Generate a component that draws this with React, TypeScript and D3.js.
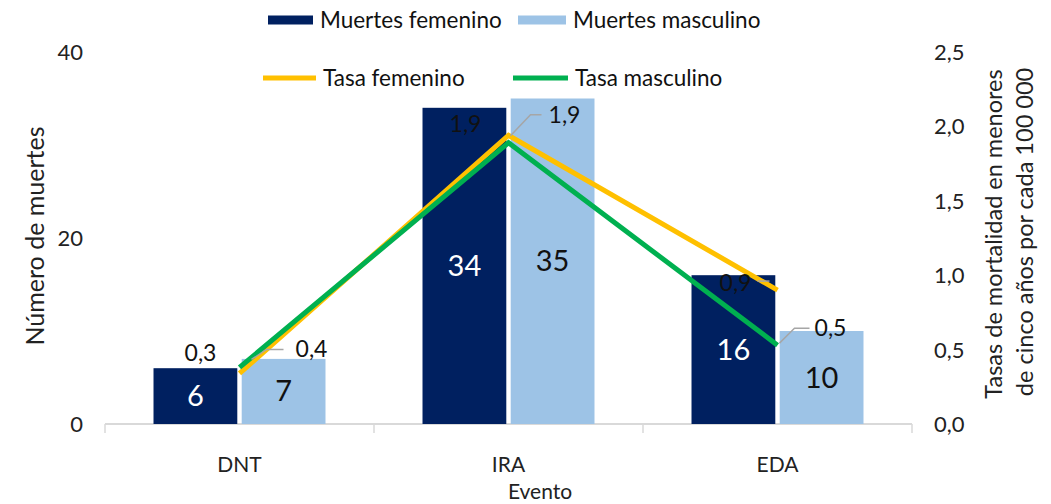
import React, { useEffect, useRef } from "react";
import * as d3 from "d3";

const categories = ["DNT", "IRA", "EDA"];
const series = ["Muertes femenino", "Muertes masculino"];
const deathsFemale = [6, 34, 16];
const deathsMale = [7, 35, 10];
const rateFemale = [0.34, 1.94, 0.9];
const rateMale = [0.38, 1.89, 0.53];
const leftTicks = [0, 20, 40];
const rightTicks = [0, 0.5, 1, 1.5, 2, 2.5];

const W = 1051;
const H = 504;
const FONT = "Lato, 'Open Sans', sans-serif";
const DARK = "#002060";
const LIGHT = "#9dc3e6";
const YELLOW = "#ffc000";
const GREEN = "#00b050";
const fmt = (v: number) => v.toFixed(1).replace(".", ",");

export default function App() {
  const ref = useRef<SVGSVGElement>(null);

  useEffect(() => {
    const svg = d3.select(ref.current);
    svg.selectAll("*").remove();

    const x0 = d3.scaleBand().domain(categories).range([105, 912]).paddingInner(0).paddingOuter(0);
    const x1 = d3.scaleBand().domain(series).range([0, x0.bandwidth()]).paddingInner(0.05).paddingOuter(0.55);
    const yL = d3.scaleLinear().domain([0, 40]).range([424, 52]);
    const yR = d3.scaleLinear().domain([0, 2.5]).range([424, 52]);
    const cx = (c: string) => (x0(c) as number) + x0.bandwidth() / 2;

    // axis line + boundary ticks
    svg.append("line").attr("x1", 105).attr("x2", 912).attr("y1", yL(0)).attr("y2", yL(0))
      .attr("stroke", "#d9d9d9").attr("stroke-width", 2);
    const bounds = [...categories.map((c) => x0(c) as number), 912];
    svg.selectAll(".tk").data(bounds).enter().append("line")
      .attr("x1", (d) => d).attr("x2", (d) => d).attr("y1", yL(0)).attr("y2", yL(0) + 9)
      .attr("stroke", "#d9d9d9").attr("stroke-width", 1.5);

    // bars
    const bars = [
      { key: series[0], vals: deathsFemale, color: DARK, text: "#fff" },
      { key: series[1], vals: deathsMale, color: LIGHT, text: "#111" },
    ];
    bars.forEach((s) => {
      const g = svg.append("g");
      g.selectAll("rect").data(categories).enter().append("rect")
        .attr("x", (c) => (x0(c) as number) + (x1(s.key) as number))
        .attr("y", (c, i) => yL(s.vals[i]))
        .attr("width", x1.bandwidth())
        .attr("height", (c, i) => yL(0) - yL(s.vals[i]))
        .attr("fill", s.color);
      g.selectAll("text").data(categories).enter().append("text")
        .attr("x", (c) => (x0(c) as number) + (x1(s.key) as number) + x1.bandwidth() / 2)
        .attr("y", (c, i) => (yL(s.vals[i]) + yL(0)) / 2 + 10)
        .attr("text-anchor", "middle").attr("font-family", FONT).attr("font-size", 29)
        .attr("fill", s.text).text((c, i) => s.vals[i]);
    });

    // lines
    const line = d3.line<number>().x((d, i) => cx(categories[i])).y((d) => yR(d));
    svg.append("path").datum(rateFemale).attr("d", line).attr("fill", "none")
      .attr("stroke", YELLOW).attr("stroke-width", 5);
    svg.append("path").datum(rateMale).attr("d", line).attr("fill", "none")
      .attr("stroke", GREEN).attr("stroke-width", 5);

    // rate labels
    const lab = (x: number, y: number, t: string) =>
      svg.append("text").attr("x", x).attr("y", y).attr("text-anchor", "middle")
        .attr("font-family", FONT).attr("font-size", 23).attr("fill", "#111").text(t);
    const lead = (pts: [number, number][]) =>
      svg.append("path").attr("d", d3.line()(pts)).attr("fill", "none")
        .attr("stroke", "#a6a6a6").attr("stroke-width", 1.5);

    const p = (i: number, v: number) => [cx(categories[i]), yR(v)] as [number, number];
    // DNT
    let [x, y] = p(0, rateFemale[0]);
    lab(x - 39, y - 12, fmt(rateFemale[0]));
    [x, y] = p(0, rateMale[0]);
    lead([[x + 12, y - 8], [x + 27, y - 18], [x + 44, y - 18]]);
    lab(x + 72, y - 10, fmt(rateMale[0]));
    // IRA
    [x, y] = p(1, rateFemale[1]);
    lab(x - 43, y - 3, fmt(rateFemale[1]));
    [x, y] = p(1, rateMale[1]);
    lead([[x + 2, y - 7], [x + 22, y - 28], [x + 33, y - 28]]);
    lab(x + 56, y - 20, fmt(rateMale[1]));
    // EDA
    [x, y] = p(2, rateFemale[2]);
    lab(x - 42, y + 1, fmt(rateFemale[2]));
    lead([[x - 20, y - 9], [x - 8, y - 9]]);
    [x, y] = p(2, rateMale[2]);
    lead([[x + 2, y - 2], [x + 17, y - 17], [x + 32, y - 17]]);
    lab(x + 53, y - 9, fmt(rateMale[2]));

    // left axis ticks
    svg.selectAll(".lt").data(leftTicks).enter().append("text")
      .attr("x", 83).attr("y", (d) => yL(d) + 8).attr("text-anchor", "end")
      .attr("font-family", FONT).attr("font-size", 22).attr("fill", "#222").text((d) => d);
    // right axis ticks
    svg.selectAll(".rt").data(rightTicks).enter().append("text")
      .attr("x", 934).attr("y", (d) => yR(d) + 8).attr("text-anchor", "start")
      .attr("font-family", FONT).attr("font-size", 22).attr("fill", "#222").text((d) => fmt(d));

    // category labels
    svg.selectAll(".cl").data(categories).enter().append("text")
      .attr("x", (c) => cx(c)).attr("y", 472).attr("text-anchor", "middle")
      .attr("font-family", FONT).attr("font-size", 21).attr("fill", "#222").text((c) => c);
    svg.append("text").attr("x", 540).attr("y", 499).attr("text-anchor", "middle")
      .attr("font-family", FONT).attr("font-size", 21).attr("fill", "#222").text("Evento");

    // axis titles
    svg.append("text").attr("transform", "translate(44,236) rotate(-90)").attr("text-anchor", "middle")
      .attr("font-family", FONT).attr("font-size", 25).attr("fill", "#222").text("Número de muertes");
    svg.append("text").attr("transform", "translate(1002,234) rotate(-90)").attr("text-anchor", "middle")
      .attr("font-family", FONT).attr("font-size", 23.5).attr("fill", "#222").text("Tasas de mortalidad en menores");
    svg.append("text").attr("transform", "translate(1033,232) rotate(-90)").attr("text-anchor", "middle")
      .attr("font-family", FONT).attr("font-size", 23.5).attr("fill", "#222").text("de cinco años por cada 100 000");

    // legend
    const legend = [
      { name: "Muertes femenino", color: DARK, x: 268, w: 45, y: 20, sw: 9 },
      { name: "Muertes masculino", color: LIGHT, x: 518, w: 48, y: 20, sw: 9 },
      { name: "Tasa femenino", color: YELLOW, x: 263, w: 53, y: 78, sw: 5 },
      { name: "Tasa masculino", color: GREEN, x: 513, w: 55, y: 78, sw: 5 },
    ];
    const lg = svg.append("g");
    lg.selectAll("line").data(legend).enter().append("line")
      .attr("x1", (d) => d.x).attr("x2", (d) => d.x + d.w).attr("y1", (d) => d.y).attr("y2", (d) => d.y)
      .attr("stroke", (d) => d.color).attr("stroke-width", (d) => d.sw);
    lg.selectAll("text").data(legend).enter().append("text")
      .attr("x", (d) => d.x + d.w + 7).attr("y", (d) => d.y + 8)
      .attr("font-family", FONT).attr("font-size", 22.5).attr("fill", "#111").text((d) => d.name);
  }, []);

  return (
    <svg ref={ref} width={W} height={H}
      style={{ position: "absolute", left: 0, top: 0, background: "#fff", display: "block" }} />
  );
}
